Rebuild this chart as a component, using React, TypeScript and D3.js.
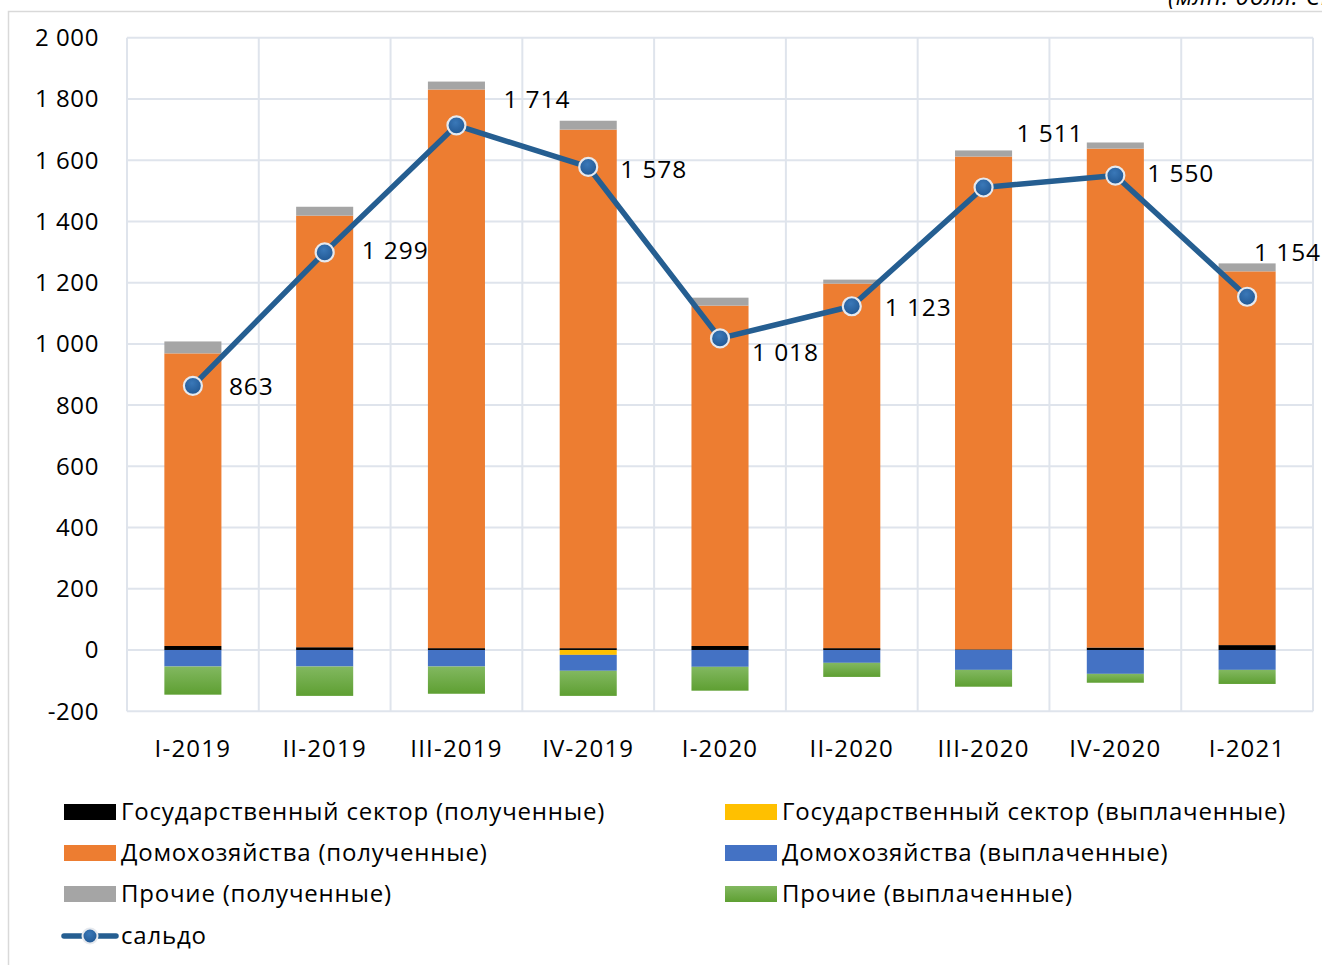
import React from "react";
import * as d3 from "d3";

const categories = ["I-2019", "II-2019", "III-2019", "IV-2019", "I-2020", "II-2020", "III-2020", "IV-2020", "I-2021"];
const govReceived = [13, 9, 6, 6, 13, 6, 2, 8, 16];
const govPaid = [0, 0, 0, -16, 0, 0, 0, 0, 0];
const hhReceived = [956, 1410, 1825, 1694, 1112, 1191, 1610, 1630, 1221];
const hhPaid = [-54, -54, -54, -52, -55, -42, -65, -78, -65];
const otherReceived = [39, 29, 26, 29, 26, 13, 20, 20, 26];
const otherPaid = [-92, -96, -89, -82, -78, -46, -55, -29, -46];
const saldo = [863, 1299, 1714, 1578, 1018, 1123, 1511, 1550, 1154];
const yTicks = [-200, 0, 200, 400, 600, 800, 1000, 1200, 1400, 1600, 1800, 2000];

const seriesKeys = ["govReceived", "govPaid", "hhReceived", "hhPaid", "otherReceived", "otherPaid"];
const seriesNames: Record<string, string> = {
  govReceived: "Государственный сектор (полученные)",
  govPaid: "Государственный сектор (выплаченные)",
  hhReceived: "Домохозяйства (полученные)",
  hhPaid: "Домохозяйства (выплаченные)",
  otherReceived: "Прочие (полученные)",
  otherPaid: "Прочие (выплаченные)",
};
const colors: Record<string, string> = {
  govReceived: "#000000",
  govPaid: "#FFC000",
  hhReceived: "#ED7D31",
  hhPaid: "#4472C4",
  otherReceived: "#A5A5A5",
  otherPaid: "url(#greenGrad)",
};

// layout-only label offsets (dx, dy) from each saldo point
const labelOffsets: [number, number][] = [
  [36, 1], [37, -2], [47, -26], [32, 2], [32, 14], [33, 1], [33, -54], [32, -2], [7, -44],
];

const FONT = "'Open Sans', sans-serif";

export default function App() {
  const W = 1322, H = 965;
  const left = 127, right = 1313, top = 37.8, bottom = 711.2;

  const x = d3.scaleBand<string>().domain(categories).range([left, right]).padding(0);
  const y = d3.scaleLinear().domain([-200, 2000]).range([bottom, top]);
  const barW = x.bandwidth() * 0.433;

  const table = categories.map((c, i) => ({
    cat: c,
    govReceived: govReceived[i],
    govPaid: govPaid[i],
    hhReceived: hhReceived[i],
    hhPaid: hhPaid[i],
    otherReceived: otherReceived[i],
    otherPaid: otherPaid[i],
  }));
  const stacked = d3.stack<any>().keys(seriesKeys).offset(d3.stackOffsetDiverging)(table);

  const cx = (c: string) => (x(c) as number) + x.bandwidth() / 2;
  const line = d3.line<number>().x((_, i) => cx(categories[i])).y((v) => y(v));

  const gridColor = "#DFE4EC";
  const fmt = (v: number) => {
    const s = Math.abs(v).toString();
    const withSp = s.length > 3 ? s.slice(0, s.length - 3) + " " + s.slice(s.length - 3) : s;
    return (v < 0 ? "-" : "") + withSp;
  };

  const legendLeft = ["govReceived", "hhReceived", "otherReceived"];
  const legendRight = ["govPaid", "hhPaid", "otherPaid"];
  const legendRows = [812, 853, 894];

  return (
    <svg width={W} height={H} style={{ position: "absolute", left: 0, top: 0, background: "#fff" }} fontFamily={FONT}>
      <defs>
        <linearGradient id="greenGrad" x1="0" y1="0" x2="0" y2="1">
          <stop offset="0%" stopColor="#82B860" />
          <stop offset="100%" stopColor="#5E9F32" />
        </linearGradient>
        <radialGradient id="markerGrad" cx="0.45" cy="0.35" r="0.7">
          <stop offset="0%" stopColor="#3A78B8" />
          <stop offset="100%" stopColor="#1F5590" />
        </radialGradient>
      </defs>
      <rect x={0} y={0} width={W} height={H} fill="#fff" />
      {/* chart frame */}
      <path d={`M8.5,${H + 5} V11.5 H${W + 5}`} fill="none" stroke="#D9D9D9" strokeWidth={1.5} />
      <text x={1168} y={5} fontSize={24} fontStyle="italic" fill="#000" letterSpacing={0.8}>(млн. долл. США)</text>

      {/* gridlines */}
      {yTicks.map((t) => (
        <line key={"h" + t} x1={left} x2={right} y1={y(t)} y2={y(t)} stroke={gridColor} strokeWidth={2} />
      ))}
      {categories.map((c) => (
        <line key={"v" + c} x1={x(c) as number} x2={x(c) as number} y1={top} y2={bottom} stroke={gridColor} strokeWidth={2} />
      ))}
      <line x1={right} x2={right} y1={top} y2={bottom} stroke={gridColor} strokeWidth={2} />

      {/* bars */}
      {stacked.map((s) => (
        <g key={s.key} fill={colors[s.key]}>
          {s.map((d, i) => {
            const y0 = y(d[0]), y1 = y(d[1]);
            const h = Math.abs(y1 - y0);
            if (h < 0.01) return null;
            return <rect key={i} x={cx(categories[i]) - barW / 2} y={Math.min(y0, y1)} width={barW} height={h} />;
          })}
        </g>
      ))}

      {/* saldo line */}
      <path d={line(saldo) || ""} fill="none" stroke="#255E91" strokeWidth={5.5} strokeLinejoin="round" />
      {saldo.map((v, i) => (
        <circle key={i} cx={cx(categories[i])} cy={y(v)} r={9} fill="url(#markerGrad)" stroke="#E6E9EE" strokeWidth={2.2} />
      ))}
      {saldo.map((v, i) => (
        <text key={"l" + i} x={cx(categories[i]) + labelOffsets[i][0]} y={y(v) + labelOffsets[i][1]} dy="0.35em" fontSize={24.5} fill="#000" letterSpacing={0.9}>
          {fmt(v)}
        </text>
      ))}

      {/* y axis labels */}
      {yTicks.map((t) => (
        <text key={"yt" + t} x={99} y={y(t)} dy="0.35em" textAnchor="end" fontSize={24} fill="#000" letterSpacing={0.6}>
          {fmt(t)}
        </text>
      ))}
      {/* x axis labels */}
      {categories.map((c) => (
        <text key={"xt" + c} x={cx(c)} y={749} dy="0.35em" textAnchor="middle" fontSize={24} fill="#000" letterSpacing={1.2}>
          {c}
        </text>
      ))}

      {/* legend */}
      {legendLeft.map((k, i) => (
        <g key={k}>
          <rect x={64} y={legendRows[i] - 8} width={52} height={16} fill={colors[k]} />
          <text x={121} y={legendRows[i]} dy="0.35em" fontSize={24} fill="#000" letterSpacing={0.8}>{seriesNames[k]}</text>
        </g>
      ))}
      {legendRight.map((k, i) => (
        <g key={k}>
          <rect x={725} y={legendRows[i] - 8} width={52} height={16} fill={colors[k]} />
          <text x={782} y={legendRows[i]} dy="0.35em" fontSize={24} fill="#000" letterSpacing={0.8}>{seriesNames[k]}</text>
        </g>
      ))}
      <g>
        <line x1={64} x2={116} y1={936} y2={936} stroke="#255E91" strokeWidth={5.5} strokeLinecap="round" />
        <circle cx={90} cy={936} r={7.5} fill="url(#markerGrad)" stroke="#E6E9EE" strokeWidth={2} />
        <text x={121} y={936} dy="0.35em" fontSize={24} fill="#000" letterSpacing={0.8}>сальдо</text>
      </g>
    </svg>
  );
}
